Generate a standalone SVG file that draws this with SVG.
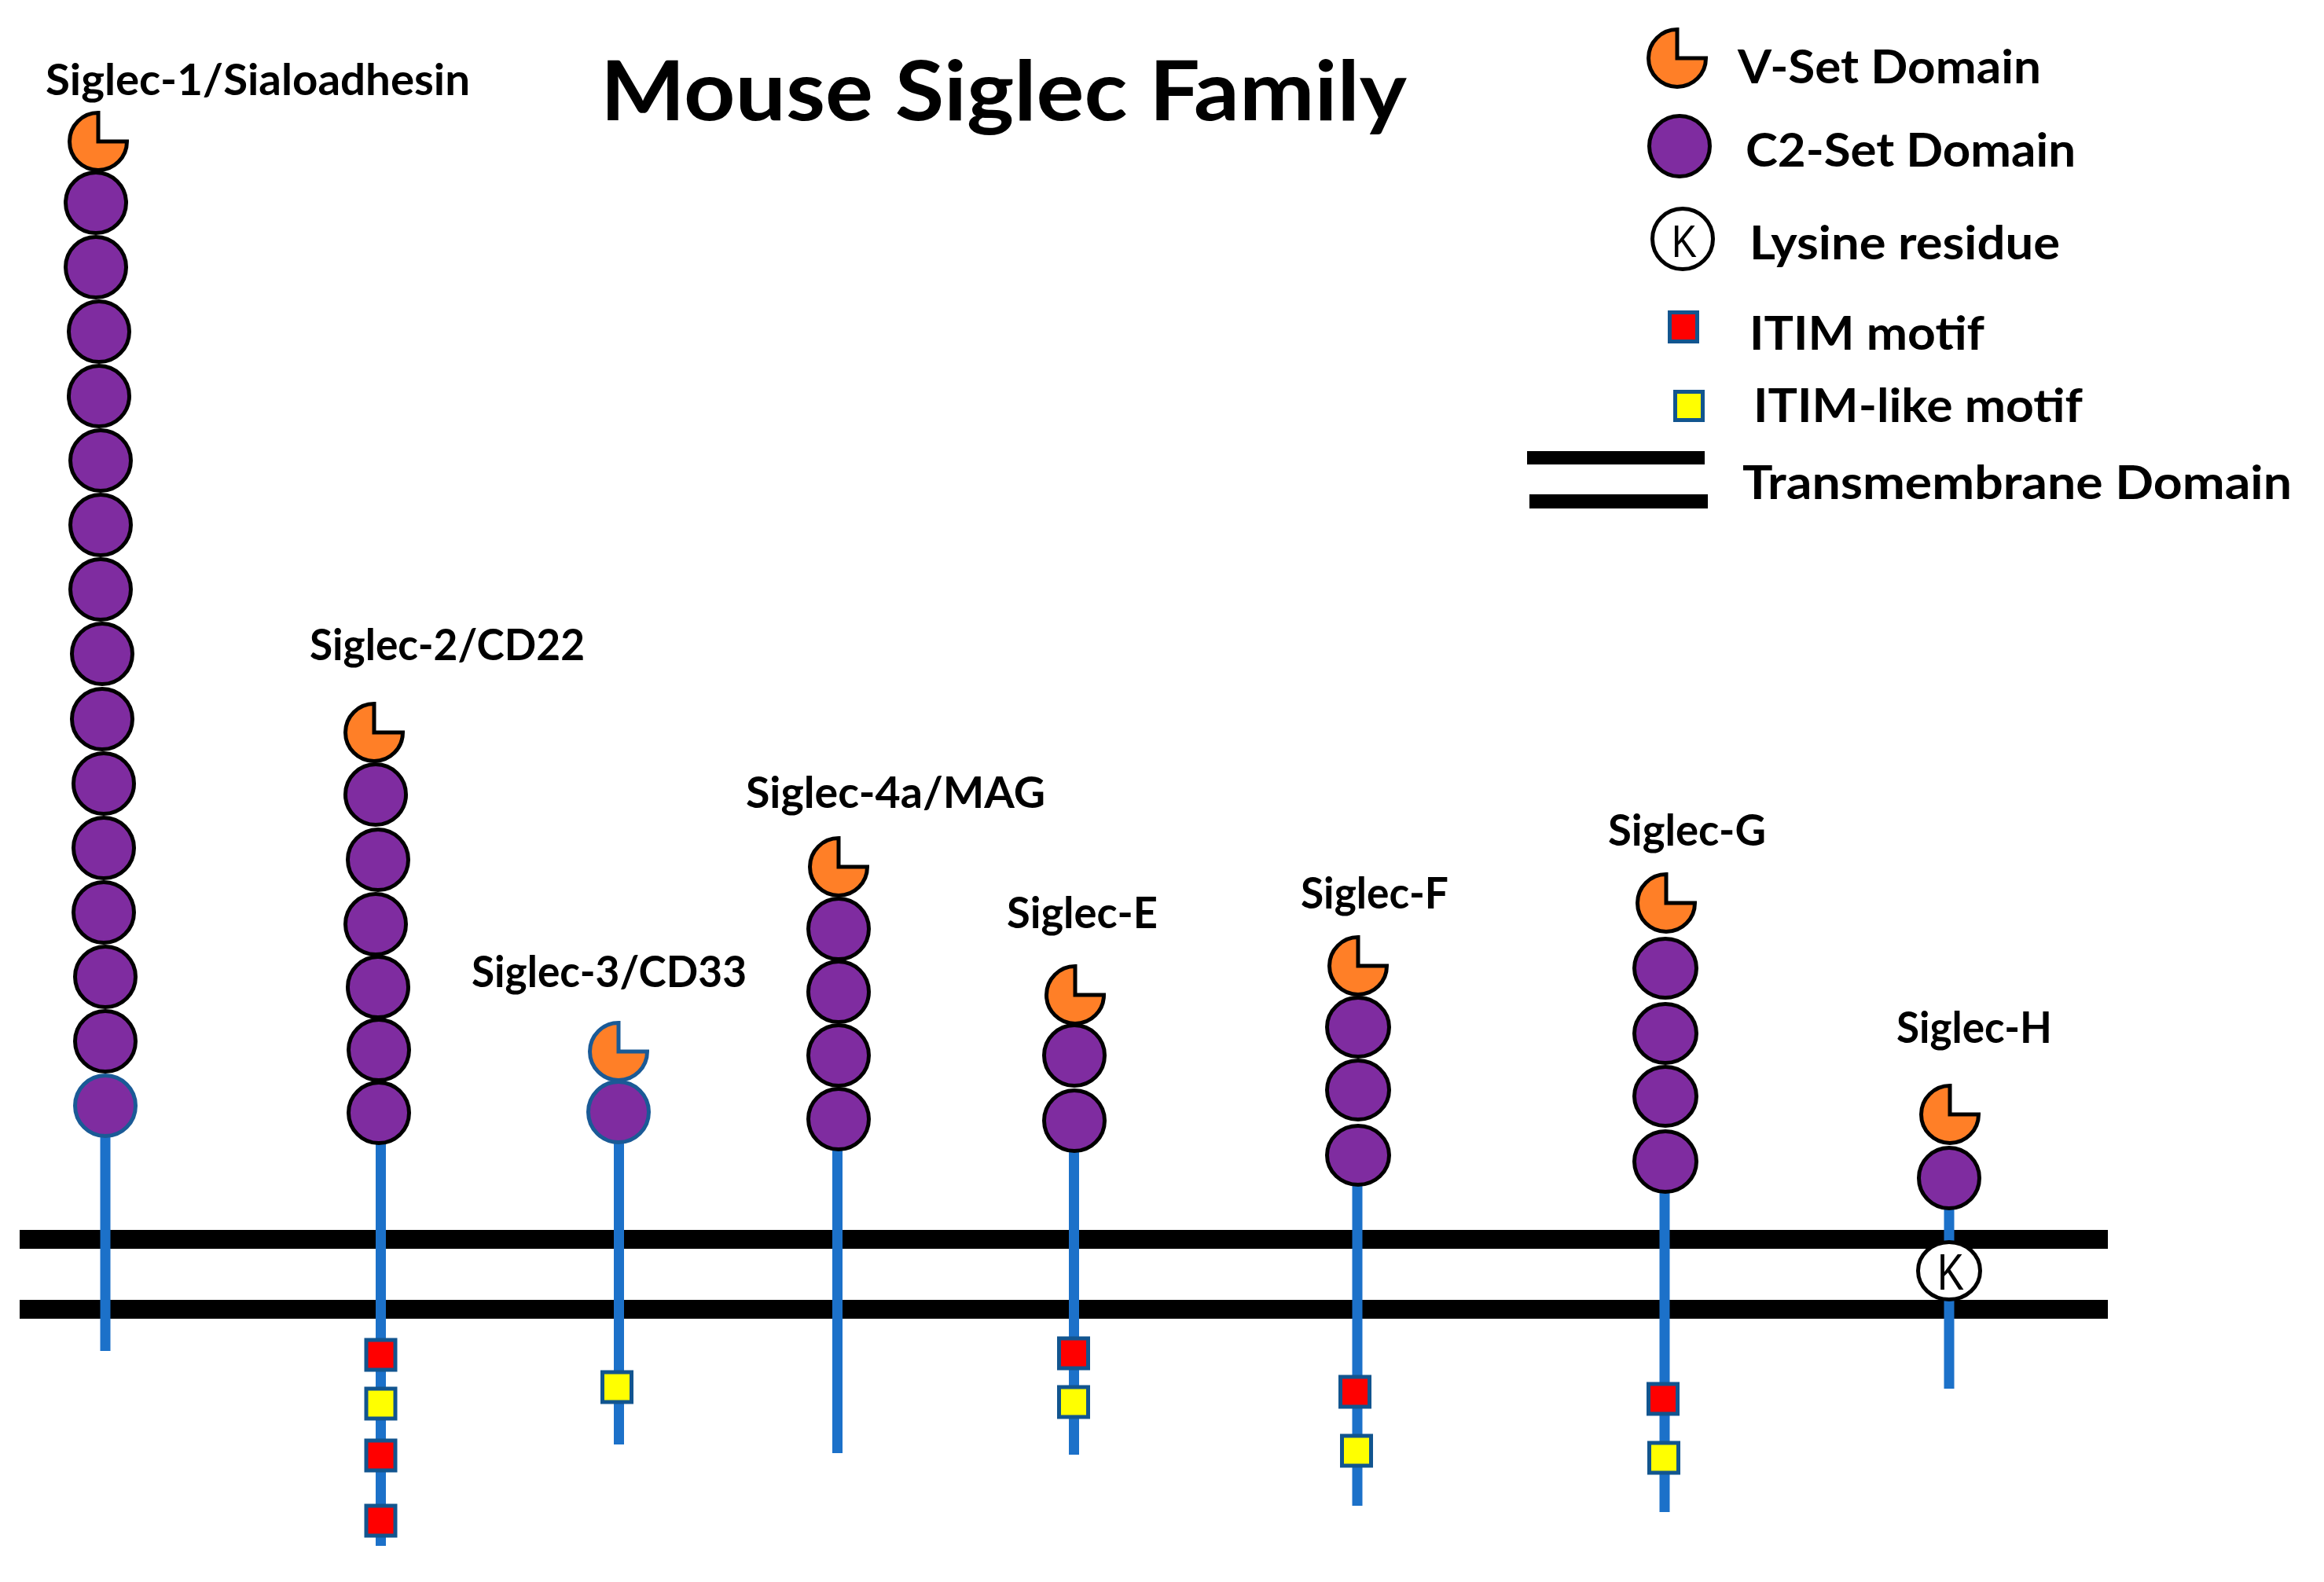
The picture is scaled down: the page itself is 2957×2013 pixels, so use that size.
<svg xmlns="http://www.w3.org/2000/svg" xmlns:xlink="http://www.w3.org/1999/xlink" width="2957" height="2013" viewBox="0 0 2957 2013">
<style>
.t{font-family:Lato,"Liberation Sans",sans-serif;font-weight:bold;fill:#000}
.lab{font-size:55px}
.leg{font-size:60px}
.k{font-family:"Liberation Sans",Arial,sans-serif;font-weight:normal;fill:#000;text-anchor:middle}
.vs{fill:#FF7F27;stroke:#000;stroke-width:5}
.c2{fill:#7F2CA0;stroke:#000;stroke-width:5}
.vsb{fill:#FF7F27;stroke:#1A5A96;stroke-width:5}
.c2b{fill:#7F2CA0;stroke:#1A5A96;stroke-width:5}
.lys{fill:#fff;stroke:#000;stroke-width:5}
.itim{fill:#FF0000;stroke:#12558F;stroke-width:5}
.itl{fill:#FFFF00;stroke:#12558F;stroke-width:5}
.stalk{stroke:#1C71C9;stroke-width:13;fill:none}
.mem{fill:#000}
</style>
<defs>
<path id="vset" d="M0,0 L0,-36.5 A36.5,36.5 0 1 0 36.5,0 Z"/>
<circle id="c2" cx="0" cy="0" r="38.5"/>
<rect id="box" x="-18.5" y="-19" width="37" height="38"/>
</defs>
<rect width="2957" height="2013" fill="#fff"/>

<text id="title" class="t" x="764" y="153" font-size="106" textLength="1026" lengthAdjust="spacingAndGlyphs">Mouse Siglec Family</text>

<g id="membrane">
<rect class="mem" x="25" y="1565" width="2657" height="24"/>
<rect class="mem" x="25" y="1654" width="2657" height="24"/>
</g>

<g id="connectors">
<line class="stalk" x1="134" y1="1407" x2="134" y2="1719"/>
<line class="stalk" x1="484.5" y1="1416" x2="484.5" y2="1967"/>
<line class="stalk" x1="787.5" y1="1415" x2="787.5" y2="1838"/>
<line class="stalk" x1="1065.5" y1="1424" x2="1065.5" y2="1849"/>
<line class="stalk" x1="1366.5" y1="1426" x2="1366.5" y2="1851"/>
<line class="stalk" x1="1727" y1="1470" x2="1727" y2="1916"/>
<line class="stalk" x1="2118" y1="1478" x2="2118" y2="1924"/>
<line class="stalk" x1="2480" y1="1499" x2="2480" y2="1767"/>
</g>

<g id="siglec-1">
<text class="t lab" x="58" y="121" textLength="540" lengthAdjust="spacingAndGlyphs">Siglec-1/Sialoadhesin</text>
<use href="#vset" class="vs" x="125" y="180"/>
<use href="#c2" class="c2" x="122" y="258"/>
<use href="#c2" class="c2" x="122" y="340"/>
<use href="#c2" class="c2" x="126" y="422"/>
<use href="#c2" class="c2" x="126" y="504"/>
<use href="#c2" class="c2" x="128" y="586"/>
<use href="#c2" class="c2" x="128" y="668"/>
<use href="#c2" class="c2" x="128" y="750"/>
<use href="#c2" class="c2" x="130" y="832"/>
<use href="#c2" class="c2" x="130" y="915"/>
<use href="#c2" class="c2" x="132" y="997"/>
<use href="#c2" class="c2" x="132" y="1079"/>
<use href="#c2" class="c2" x="132" y="1161"/>
<use href="#c2" class="c2" x="134" y="1243"/>
<use href="#c2" class="c2" x="134" y="1325"/>
<use href="#c2" class="c2b" x="134" y="1407"/>
</g>

<g id="siglec-2">
<text class="t lab" x="394" y="840" textLength="350" lengthAdjust="spacingAndGlyphs">Siglec-2/CD22</text>
<use href="#vset" class="vs" x="476" y="932"/>
<use href="#c2" class="c2" x="478" y="1011"/>
<use href="#c2" class="c2" x="481" y="1094"/>
<use href="#c2" class="c2" x="478" y="1176"/>
<use href="#c2" class="c2" x="481" y="1256"/>
<use href="#c2" class="c2" x="482" y="1336"/>
<use href="#c2" class="c2" x="482" y="1416"/>
<use href="#box" class="itim" x="484.5" y="1724"/>
<use href="#box" class="itl" x="484.5" y="1786"/>
<use href="#box" class="itim" x="484.5" y="1852"/>
<use href="#box" class="itim" x="484.5" y="1935"/>
</g>

<g id="siglec-3">
<text class="t lab" x="600" y="1256" textLength="350" lengthAdjust="spacingAndGlyphs">Siglec-3/CD33</text>
<use href="#vset" class="vsb" x="787" y="1338"/>
<use href="#c2" class="c2b" x="787" y="1415"/>
<use href="#box" class="itl" x="785" y="1765"/>
</g>

<g id="siglec-4a">
<text class="t lab" x="949" y="1028" textLength="381" lengthAdjust="spacingAndGlyphs">Siglec-4a/MAG</text>
<use href="#vset" class="vs" x="1067" y="1103"/>
<use href="#c2" class="c2" x="1067" y="1182"/>
<use href="#c2" class="c2" x="1067" y="1262"/>
<use href="#c2" class="c2" x="1067" y="1343"/>
<use href="#c2" class="c2" x="1067" y="1424"/>
</g>

<g id="siglec-e">
<text class="t lab" x="1281" y="1181" textLength="192" lengthAdjust="spacingAndGlyphs">Siglec-E</text>
<use href="#vset" class="vs" x="1368" y="1266"/>
<use href="#c2" class="c2" x="1367" y="1343"/>
<use href="#c2" class="c2" x="1367" y="1426"/>
<use href="#box" class="itim" x="1366" y="1722"/>
<use href="#box" class="itl" x="1366" y="1784"/>
</g>

<g id="siglec-f">
<text class="t lab" x="1655" y="1156" textLength="188" lengthAdjust="spacingAndGlyphs">Siglec-F</text>
<use href="#vset" class="vs" x="1728" y="1229"/>
<ellipse class="c2" cx="1728" cy="1307" rx="39.5" ry="37.5"/>
<ellipse class="c2" cx="1728" cy="1387" rx="39.5" ry="37.5"/>
<ellipse class="c2" cx="1728" cy="1470" rx="39.5" ry="37.5"/>
<use href="#box" class="itim" x="1724" y="1771"/>
<use href="#box" class="itl" x="1726" y="1846"/>
</g>

<g id="siglec-g">
<text class="t lab" x="2046" y="1076" textLength="201" lengthAdjust="spacingAndGlyphs">Siglec-G</text>
<use href="#vset" class="vs" x="2120" y="1149"/>
<ellipse class="c2" cx="2119" cy="1232" rx="39.5" ry="37.5"/>
<ellipse class="c2" cx="2119" cy="1315" rx="39.5" ry="37.5"/>
<ellipse class="c2" cx="2119" cy="1395" rx="39.5" ry="37.5"/>
<ellipse class="c2" cx="2119" cy="1478" rx="39.5" ry="38.5"/>
<use href="#box" class="itim" x="2116" y="1780"/>
<use href="#box" class="itl" x="2117" y="1855"/>
</g>

<g id="siglec-h">
<text class="t lab" x="2413" y="1327" textLength="198" lengthAdjust="spacingAndGlyphs">Siglec-H</text>
<use href="#vset" class="vs" x="2481" y="1418"/>
<use href="#c2" class="c2" x="2480" y="1499"/>
<ellipse class="lys" cx="2480" cy="1617" rx="39.5" ry="36.5"/>
<text class="k" x="2482" y="1641" font-size="64" textLength="34" lengthAdjust="spacingAndGlyphs">K</text>
</g>

<g id="legend">
<g id="legend-vset">
<use href="#vset" class="vs" x="2134" y="74"/>
<text class="t leg" x="2211" y="106" textLength="386" lengthAdjust="spacingAndGlyphs">V-Set Domain</text>
</g>
<g id="legend-c2">
<use href="#c2" class="c2" x="2137" y="186"/>
<text class="t leg" x="2221" y="212" textLength="420" lengthAdjust="spacingAndGlyphs">C2-Set Domain</text>
</g>
<g id="legend-lysine">
<circle class="lys" cx="2141" cy="304" r="38.5"/>
<text class="k" x="2143" y="327" font-size="58" textLength="32" lengthAdjust="spacingAndGlyphs">K</text>
<text class="t leg" x="2226" y="330" textLength="395" lengthAdjust="spacingAndGlyphs">Lysine residue</text>
</g>
<g id="legend-itim">
<rect class="itim" x="2124.5" y="397.5" width="35" height="37"/>
<text class="t leg" x="2226" y="445" textLength="299" lengthAdjust="spacingAndGlyphs">ITIM motif</text>
</g>
<g id="legend-itim-like">
<rect class="itl" x="2131.5" y="498.5" width="35" height="36"/>
<text class="t leg" x="2231" y="537" textLength="419" lengthAdjust="spacingAndGlyphs">ITIM-like motif</text>
</g>
<g id="legend-tm">
<rect class="mem" x="1943" y="574" width="226" height="17"/>
<rect class="mem" x="1946" y="629" width="227" height="18"/>
<text class="t leg" x="2217" y="635" textLength="699" lengthAdjust="spacingAndGlyphs">Transmembrane Domain</text>
</g>
</g>
</svg>
